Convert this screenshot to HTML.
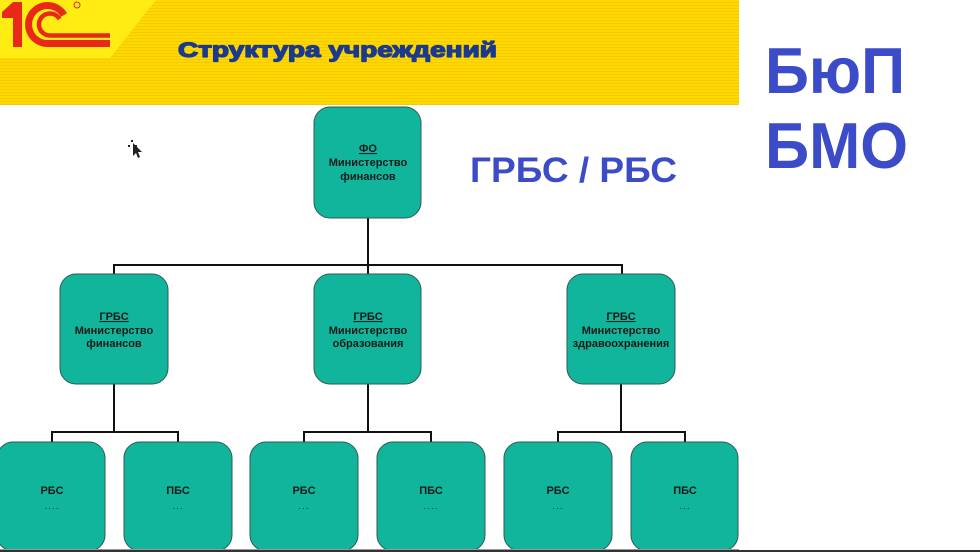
<!DOCTYPE html>
<html>
<head>
<meta charset="utf-8">
<style>
  html,body{margin:0;padding:0;background:#fff;}
  body{width:980px;height:552px;overflow:hidden;position:relative;}
  #hdr{position:absolute;left:0;top:0;width:739px;height:105px;
    background:repeating-linear-gradient(to bottom,#FFD800 0px,#FFD800 2px,#F4CB00 2px,#F4CB00 3px);}
  svg{position:absolute;left:0;top:0;}
</style>
</head>
<body>
<div id="hdr"></div>
<svg width="980" height="552" viewBox="0 0 980 552" xmlns="http://www.w3.org/2000/svg">
  <!-- light yellow logo area -->
  <polygon points="0,0 156,0 110,58 0,58" fill="#FFEC12"/>
  <!-- 1C logo -->
  <g fill="#E8291A">
    <polygon points="2,12 13,2 22,2 22,47 13,47 13,18 2,18"/>
  </g>
  <g fill="none" stroke="#E8291A">
    <path d="M64,15 A19 19 0 1 0 47.5,43.5 L110,43.5" stroke-width="7"/>
    <path d="M59.5,19 A11 11 0 1 0 50,35.5 L110,35.5" stroke-width="4.5"/>
  </g>
  <circle cx="77" cy="5" r="3" fill="none" stroke="#E8291A" stroke-width="1"/>
  <!-- title -->
  <text x="178" y="57" font-family="Liberation Sans, sans-serif" font-weight="bold" font-size="21" fill="#1B3A8E" stroke="#1B3A8E" stroke-width="1.3" stroke-linejoin="round" textLength="319" lengthAdjust="spacingAndGlyphs">Структура учреждений</text>

  <!-- right big texts -->
  <text x="470" y="182" font-family="Liberation Sans, sans-serif" font-weight="bold" font-size="35" fill="#3C4BC8" textLength="207" lengthAdjust="spacingAndGlyphs">ГРБС / РБС</text>
  <text x="765" y="93" font-family="Liberation Sans, sans-serif" font-weight="bold" font-size="65" fill="#3C4BC8" textLength="140" lengthAdjust="spacingAndGlyphs">БюП</text>
  <text x="765" y="168" font-family="Liberation Sans, sans-serif" font-weight="bold" font-size="65" fill="#3C4BC8" textLength="143" lengthAdjust="spacingAndGlyphs">БМО</text>

  <!-- connectors -->
  <g stroke="#111" stroke-width="2" fill="none">
    <path d="M368,218 V265"/>
    <path d="M114,274 V265 H622 V274"/>
    <path d="M368,265 V274"/>
    <path d="M114,384 V432"/>
    <path d="M52,442 V432 H178 V442"/>
    <path d="M368,384 V432"/>
    <path d="M304,442 V432 H431 V442"/>
    <path d="M621,384 V432"/>
    <path d="M558,442 V432 H685 V442"/>
  </g>

  <!-- boxes -->
  <g fill="#10B59B" stroke="#2F5A52" stroke-width="1">
    <rect x="314" y="107" width="107" height="111" rx="16"/>
    <rect x="60" y="274" width="108" height="110" rx="16"/>
    <rect x="314" y="274" width="107" height="110" rx="16"/>
    <rect x="567" y="274" width="108" height="110" rx="16"/>
    <rect x="-3" y="442" width="108" height="109" rx="16"/>
    <rect x="124" y="442" width="108" height="109" rx="16"/>
    <rect x="250" y="442" width="108" height="109" rx="16"/>
    <rect x="377" y="442" width="108" height="109" rx="16"/>
    <rect x="504" y="442" width="108" height="109" rx="16"/>
    <rect x="631" y="442" width="107" height="109" rx="16"/>
  </g>

  <!-- box texts -->
  <g font-family="Liberation Sans, sans-serif" font-weight="bold" font-size="11" fill="#1a1a1a" text-anchor="middle">
    <text x="368" y="152" text-decoration="underline">ФО</text>
    <text x="368" y="166">Министерство</text>
    <text x="368" y="180">финансов</text>

    <text x="114" y="320" text-decoration="underline">ГРБС</text>
    <text x="114" y="334">Министерство</text>
    <text x="114" y="347">финансов</text>

    <text x="368" y="320" text-decoration="underline">ГРБС</text>
    <text x="368" y="334">Министерство</text>
    <text x="368" y="347">образования</text>

    <text x="621" y="320" text-decoration="underline">ГРБС</text>
    <text x="621" y="334">Министерство</text>
    <text x="621" y="347">здравоохранения</text>

    <text x="52" y="494">РБС</text>
    <text x="178" y="494">ПБС</text>
    <text x="304" y="494">РБС</text>
    <text x="431" y="494">ПБС</text>
    <text x="558" y="494">РБС</text>
    <text x="685" y="494">ПБС</text>
  </g>
  <g font-family="Liberation Sans, sans-serif" font-size="10" fill="#2a3a35" text-anchor="middle" letter-spacing="1">
    <text x="52" y="509">....</text>
    <text x="178" y="509">...</text>
    <text x="304" y="509">...</text>
    <text x="431" y="509">....</text>
    <text x="558" y="509">...</text>
    <text x="685" y="509">...</text>
  </g>

  <!-- cursor -->
  <g fill="#222">
    <path d="M133,143 L133,156 L136,153 L138,158 L140,157 L138,152 L142,152 Z"/>
    <rect x="128" y="145" width="2" height="2"/>
    <rect x="131" y="140" width="2" height="2"/>
    <rect x="135" y="145" width="2" height="2"/>
  </g>

  <!-- bottom line -->
  <rect x="0" y="549" width="739" height="1" fill="#9a9a9a"/>
  <rect x="0" y="550" width="980" height="2" fill="#333"/>
</svg>
</body>
</html>
